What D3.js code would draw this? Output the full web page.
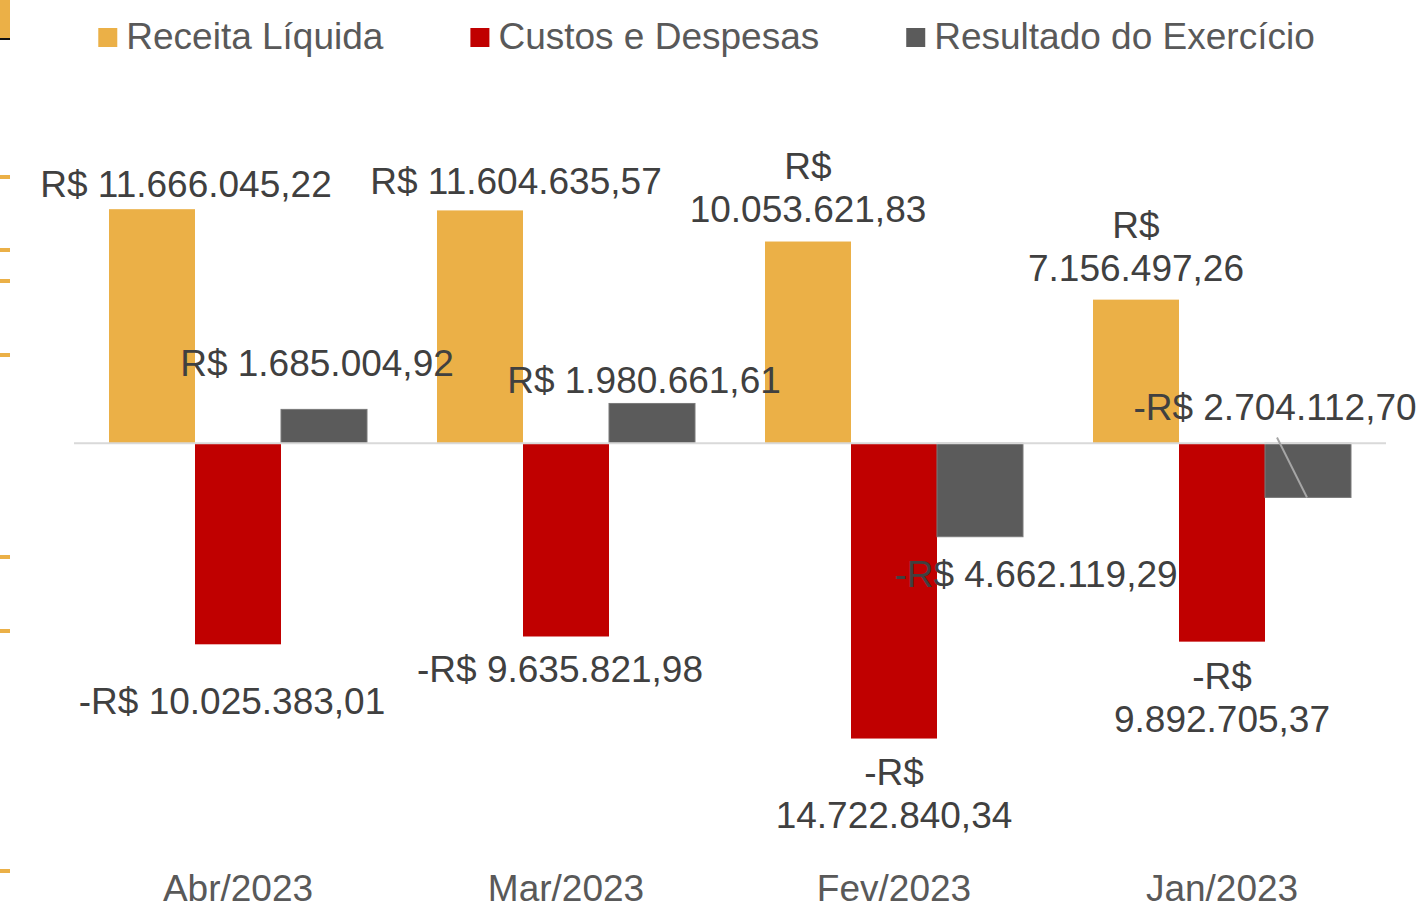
<!DOCTYPE html>
<html lang="pt-BR">
<head>
  <meta charset="UTF-8">
  <title>Receita x Custos</title>
  <script src="https://d3js.org/d3.v7.min.js"></script>
  <style>
    body { margin: 0; background: #fff; }
    text { font-family: "Liberation Sans", Arial, sans-serif; }
  </style>
</head>
<body>
<script>
  const categories = ["Abr/2023", "Mar/2023", "Fev/2023", "Jan/2023"];
  const seriesNames = ["Receita Líquida", "Custos e Despesas", "Resultado do Exercício"];
  const receita = [11666045.22, 11604635.57, 10053621.83, 7156497.26];
  const custos = [-10025383.01, -9635821.98, -14722840.34, -9892705.37];
  const resultado = [1685004.92, 1980661.61, -4662119.29, -2704112.70];
  const labelsReceita = [["R$ 11.666.045,22"], ["R$ 11.604.635,57"], ["R$", "10.053.621,83"], ["R$", "7.156.497,26"]];
  const labelsCustos = [["-R$ 10.025.383,01"], ["-R$ 9.635.821,98"], ["-R$", "14.722.840,34"], ["-R$", "9.892.705,37"]];
  const labelsResultado = [["R$ 1.685.004,92"], ["R$ 1.980.661,61"], ["-R$ 4.662.119,29"], ["-R$ 2.704.112,70"]];

  // manual label nudges (dx, dy) like the moved labels in the original
  const nudgeReceita = [[34, 5], [36, 1], [0, -2], [0, -2]];
  const nudgeCustos = [[-6, 23], [-6, -1], [0, 0], [0, 0]];
  const nudgeResultado = [[-7, -16], [-8, 7], [56, 3], [-33, -124]];

  const colors = ["#ebb047", "#c00000", "#5b5b5b"];
  const series = [
    {name: seriesNames[0], values: receita, labels: labelsReceita, nudge: nudgeReceita},
    {name: seriesNames[1], values: custos, labels: labelsCustos, nudge: nudgeCustos},
    {name: seriesNames[2], values: resultado, labels: labelsResultado, nudge: nudgeResultado}
  ];

  const width = 1417, height = 904;
  const fontSize = 37, lineH = 43, gap = 30;

  const svg = d3.select("body").append("svg")
    .attr("width", width)
    .attr("height", height);

  // leftover pieces of the neighbouring chart at the left edge
  svg.append("rect").attr("x", 0).attr("y", 0).attr("width", 10).attr("height", 38).attr("fill", "#ebb047");
  svg.append("rect").attr("x", 0).attr("y", 38).attr("width", 10).attr("height", 2).attr("fill", "#111");
  [177, 250, 281, 355, 557, 631, 871].forEach(function (y) {
    svg.append("rect").attr("x", 0).attr("y", y - 2).attr("width", 10).attr("height", 4).attr("fill", "#ebb047");
  });

  const x0 = d3.scaleBand()
    .domain(categories)
    .range([74, 1386])
    .paddingInner(70 / 328)
    .paddingOuter(35 / 328);

  const x1 = d3.scaleBand()
    .domain(seriesNames)
    .range([0, x0.bandwidth()]);

  const y = d3.scaleLinear()
    .domain([-20000000, 15000000])
    .range([844.4, 142.3]);

  // bars
  series.forEach(function (s, si) {
    svg.append("g").selectAll("rect")
      .data(s.values)
      .join("rect")
      .attr("x", (d, i) => x0(categories[i]) + x1(s.name))
      .attr("width", x1.bandwidth())
      .attr("y", d => Math.min(y(d), y(0)))
      .attr("height", d => Math.abs(y(d) - y(0)))
      .attr("fill", colors[si])
      .attr("stroke", si === 2 ? "#7a7a7a" : "none")
      .attr("stroke-width", 1);
  });

  // zero line
  svg.append("line")
    .attr("x1", 74).attr("x2", 1386)
    .attr("y1", y(0)).attr("y2", y(0))
    .attr("stroke", "#d9d9d9")
    .attr("stroke-width", 2);

  // data labels
  series.forEach(function (s, si) {
    s.values.forEach(function (v, i) {
      const lines = s.labels[i];
      const cx = x0(categories[i]) + x1(s.name) + x1.bandwidth() / 2 + s.nudge[i][0];
      let firstY;
      if (v >= 0) {
        firstY = y(v) - gap - (lines.length - 1) * lineH;
      } else {
        firstY = y(v) + gap + 4;
      }
      firstY += s.nudge[i][1];
      const t = svg.append("text")
        .attr("text-anchor", "middle")
        .attr("font-size", fontSize)
        .attr("fill", "#404040");
      lines.forEach(function (ln, k) {
        t.append("tspan")
          .attr("x", cx)
          .attr("y", firstY + k * lineH)
          .attr("dy", "0.35em")
          .text(ln);
      });
      // leader line for the label moved far from its bar
      if (si === 2 && i === 3) {
        const bx = x0(categories[i]) + x1(s.name) + x1.bandwidth() / 2;
        svg.append("line")
          .attr("x1", cx + 2).attr("y1", firstY + 30)
          .attr("x2", bx - 1).attr("y2", y(v))
          .attr("stroke", "#a6a6a6")
          .attr("stroke-width", 2);
      }
    });
  });

  // category labels
  svg.append("g").selectAll("text")
    .data(categories)
    .join("text")
    .attr("x", d => x0(d) + x0.bandwidth() / 2)
    .attr("y", 888)
    .attr("dy", "0.35em")
    .attr("text-anchor", "middle")
    .attr("font-size", fontSize)
    .attr("fill", "#595959")
    .text(d => d);

  // legend
  const legend = svg.append("g");
  let lx = 0;
  seriesNames.forEach(function (name, i) {
    const item = legend.append("g").attr("transform", "translate(" + lx + ",0)");
    item.append("rect")
      .attr("x", 0).attr("y", 28)
      .attr("width", 19).attr("height", 19)
      .attr("fill", colors[i]);
    const txt = item.append("text")
      .attr("x", 28).attr("y", 36)
      .attr("dy", "0.35em")
      .attr("font-size", fontSize)
      .attr("fill", "#595959")
      .text(name);
    lx += 28 + txt.node().getComputedTextLength() + 87;
  });
  const legendW = lx - 87;
  legend.attr("transform", "translate(" + (width / 2 - legendW / 2 - 2) + ",0)");
</script>
</body>
</html>
